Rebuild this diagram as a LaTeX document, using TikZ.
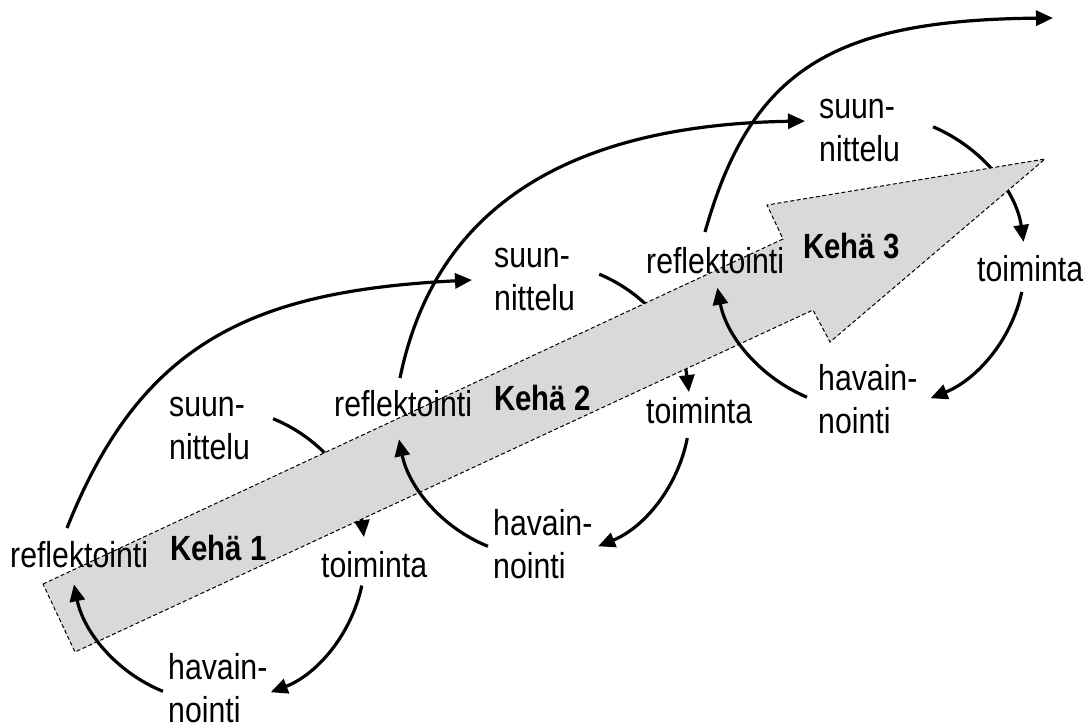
\documentclass[tikz,border=0pt]{standalone}
\usepackage{fontspec}
\setmainfont{Liberation Sans}[FakeStretch=0.84]
\usetikzlibrary{arrows.meta,calc}
\newcommand{\twolines}[2]{\vtop{\baselineskip=43pt\hbox{#1}\hbox{#2}}}
\begin{document}
\begin{tikzpicture}[x=1pt,y=1pt,
  lbl/.style={inner sep=0pt, anchor=base west, font=\fontsize{36}{43}\selectfont},
  boldlbl/.style={lbl, font=\fontsize{35}{42}\selectfont\bfseries},
  flow/.style={line width=3.2pt, -{Triangle[length=17pt,width=15pt]}},
  bigarrow/.style={fill=black!15, draw=black, line width=1pt, dash pattern=on 4pt off 2.5pt}]
\useasboundingbox (0,0) rectangle (1088,-726);
% cycle centres
\coordinate (c1) at (218,-555);
\coordinate (c2) at (543,-410);
\coordinate (c3) at (870,-262);
% planning -> action arcs (under the big arrow)
\draw[flow] ($(c1)+(68:147)$) arc[start angle=68,end angle=7,radius=147pt];
\draw[flow] ($(c2)+(67.5:147)$) arc[start angle=67.5,end angle=7,radius=147pt];
\draw[flow] ($(c3)+(66:155 and 148)$) arc[start angle=66,end angle=7.8,x radius=155pt,y radius=148pt];
% big grey arrow
\path[bigarrow] (43,-584) -- (783,-239) -- (767,-205) -- (1045,-159) -- (830,-342) -- (813,-310) -- (75,-652) -- cycle;
% labels
\node[lbl] (r1) at (10,-567) {reflektointi};
\node[boldlbl] (k1) at (170,-560) {Kehä 1};
\node[lbl] (s1) at (169,-416) {\twolines{suun-}{nittelu}};
\node[lbl] (t1) at (321,-577) {toiminta};
\node[lbl] (h1) at (168,-679) {\twolines{havain-}{nointi}};
\node[lbl] (r2) at (334,-416) {reflektointi};
\node[boldlbl] (k2) at (494,-410) {Kehä 2};
\node[lbl] (s2) at (494,-267) {\twolines{suun-}{nittelu}};
\node[lbl] (t2) at (646,-423) {toiminta};
\node[lbl] (h2) at (493,-535) {\twolines{havain-}{nointi}};
\node[lbl] (r3) at (646,-273) {reflektointi};
\node[boldlbl] (k3) at (803,-258) {Kehä 3};
\node[lbl] (s3) at (819,-118) {\twolines{suun-}{nittelu}};
\node[lbl] (t3) at (977,-281) {toiminta};
\node[lbl] (h3) at (818,-390) {\twolines{havain-}{nointi}};
% action -> observation
\draw[flow] ($(c1)+(-12:147)$) arc[start angle=-12,end angle=-69,radius=147pt];
\draw[flow] ($(c2)+(-11:147)$) arc[start angle=-11,end angle=-68,radius=147pt];
\draw[flow] ($(c3)+(-11.7:155 and 148)$) arc[start angle=-11.7,end angle=-67,x radius=155pt,y radius=148pt];
% observation -> reflection
\draw[flow] ($(c1)+(-112:147)$) arc[start angle=-112,end angle=-168.5,radius=147pt];
\draw[flow] ($(c2)+(-112:147)$) arc[start angle=-112,end angle=-168.5,radius=147pt];
\draw[flow] ($(c3)+(-114:155 and 148)$) arc[start angle=-114,end angle=-170,x radius=155pt,y radius=148pt];
% reflection -> next planning
\coordinate (d1s) at (67,-528);
\coordinate (d1e) at (472,-280);
\coordinate (d2s) at (400,-378);
\coordinate (d2e) at (805,-121);
\coordinate (d3s) at (705,-232);
\coordinate (d3e) at (1053,-18);
\draw[flow] (d1s) .. controls (141,-342) and (252,-291) .. (d1e);
\draw[flow] (d2s) .. controls (436,-202) and (575,-125) .. (d2e);
\draw[flow] (d3s) .. controls (751,-69) and (833,-20) .. (d3e);
\end{tikzpicture}
\end{document}
